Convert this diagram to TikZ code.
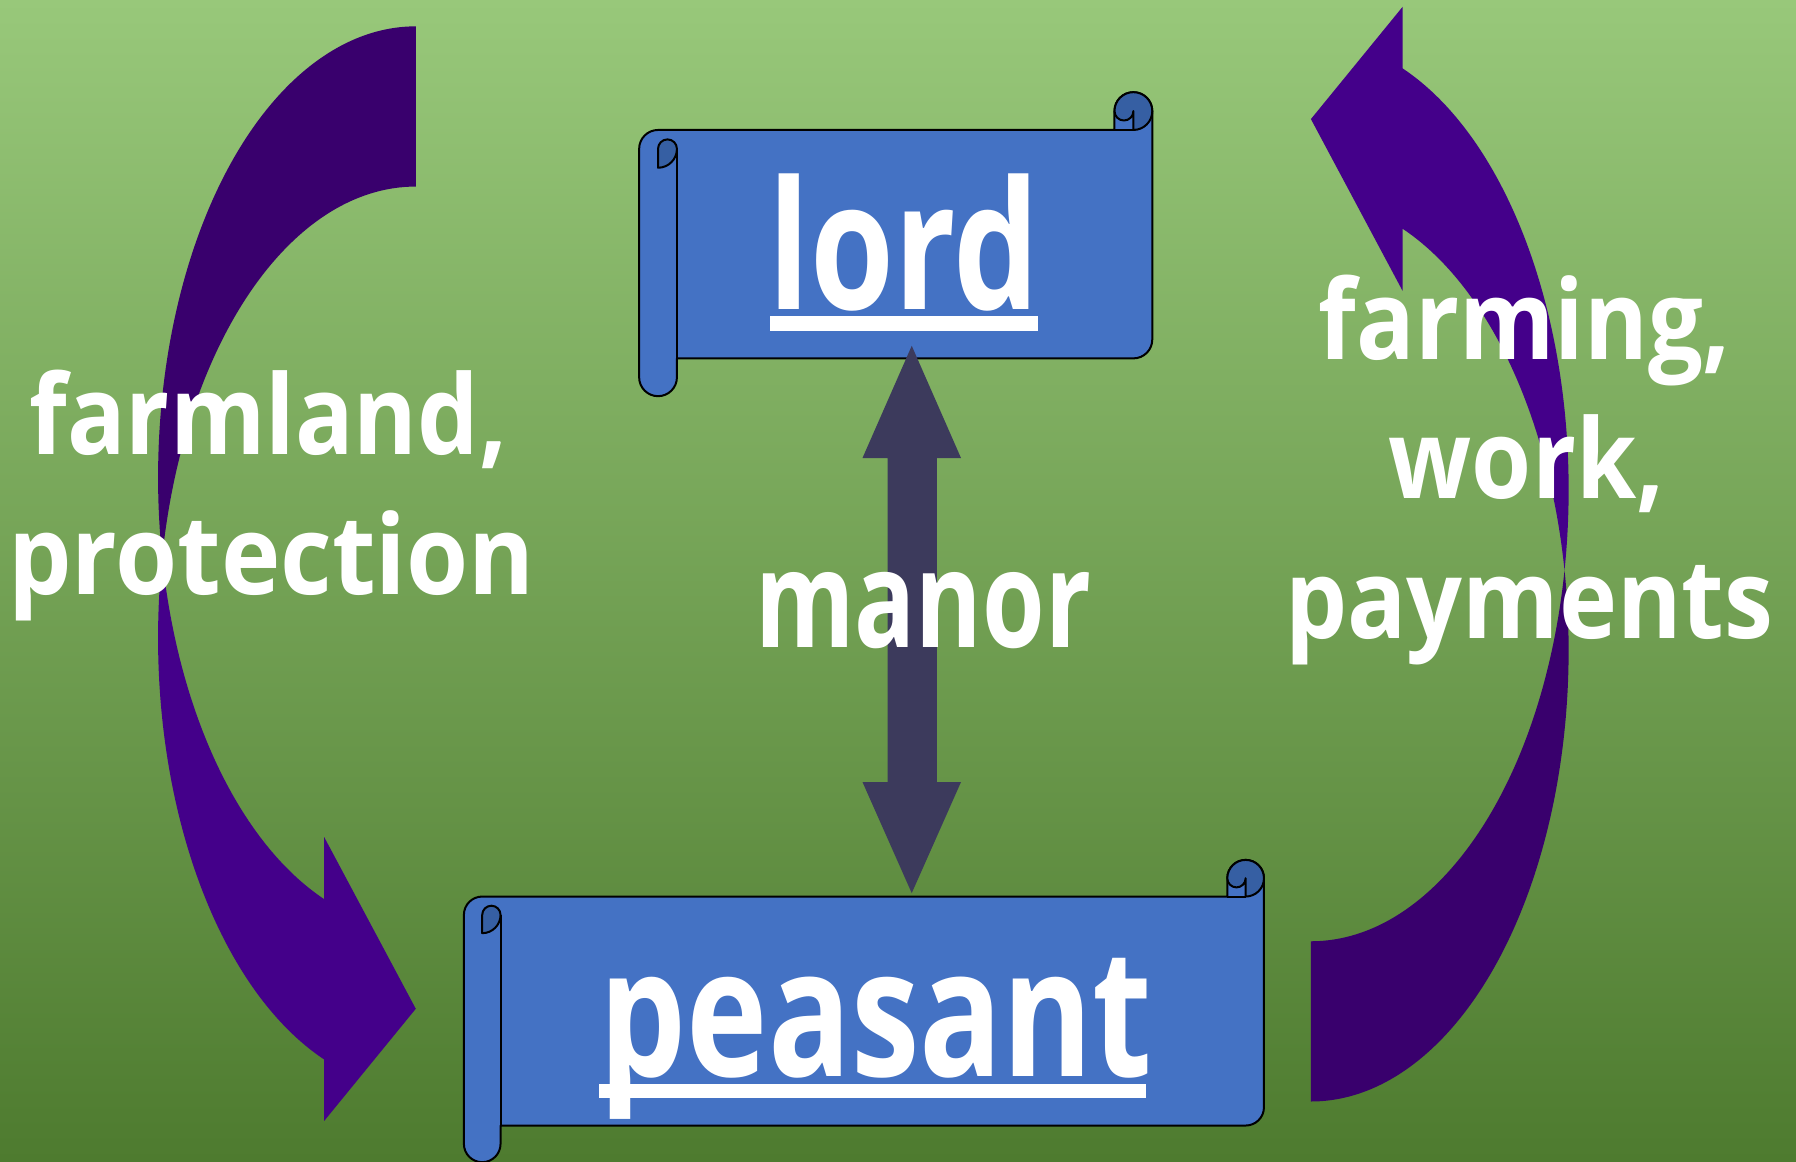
\documentclass[tikz,border=0pt]{standalone}
\usepackage{fontspec}
\setmainfont{Open Sans}
\usepackage{graphicx}
\definecolor{bgtop}{HTML}{98C87A}
\definecolor{bgmid}{HTML}{74AE4B}
\definecolor{bgbot}{HTML}{4E7B2F}
\definecolor{purpdark}{HTML}{39006D}
\definecolor{purplight}{HTML}{44008A}
\definecolor{scrollblue}{HTML}{4472C4}
\definecolor{scrolldark}{HTML}{365FA3}
\definecolor{slate}{HTML}{3C3A5C}
\tikzset{
 scrollbody/.style={fill=scrollblue, draw=black, line width=1pt, line join=round},
 scrollcurl/.style={fill=scrolldark, draw=black, line width=1pt, line join=round},
 scrollline/.style={draw=black, line width=1pt},
 lbl/.style={text=white, inner sep=0pt, anchor=base, font=\bfseries},
 uline/.style={fill=white},
}
\newcommand\myscroll[5]{%
 \pgfmathsetmacro\Sl{#1}\pgfmathsetmacro\St{#2}\pgfmathsetmacro\Sr{#3}\pgfmathsetmacro\Sb{#4}\pgfmathsetmacro\Sc{#5}%
 \pgfmathsetmacro\Sh{\Sc/2}\pgfmathsetmacro\Sq{\Sc/4}%
 \path[scrollbody] (\Sr,\St+\Sh) arc[start angle=0,end angle=-180,radius=\Sh]
   -- (\Sr-\Sc,\St+\Sc) -- (\Sl+\Sh,\St+\Sc) arc[start angle=-90,end angle=-180,radius=\Sh]
   -- (\Sl,\Sb-\Sh) arc[start angle=180,end angle=0,radius=\Sh]
   -- (\Sl+\Sc,\Sb-\Sc) -- (\Sr-\Sh,\Sb-\Sc) arc[start angle=90,end angle=0,radius=\Sh] -- cycle;
 \path[scrollcurl] (\Sl+\Sh,\St+2*\Sc) -- (\Sl+\Sh,\St+\Sc+\Sh) arc[start angle=180,end angle=360,radius=\Sq] arc[start angle=0,end angle=90,radius=\Sh] -- cycle;
 \path[scrollcurl] (\Sr-\Sh,\St+\Sh) -- (\Sr-\Sh,\St+\Sc) arc[start angle=90,end angle=-180,radius=\Sh] arc[start angle=180,end angle=0,radius=\Sq] -- cycle;
 \draw[scrollline] (\Sl+\Sc,\St+\Sc+\Sh) -- (\Sl+\Sc,\Sb-\Sc);
 \draw[scrollline] (\Sr-\Sc,\St+\Sc) -- (\Sr-\Sh,\St+\Sc);
}
\newcommand\curvedarrow{%
 \fill[purpdark] (363,23) arc[start angle=270,end angle=169.77,x radius=225,y radius=394]
   arc[start angle=190.23,end angle=270,x radius=225,y radius=394] -- cycle;
 \fill[purplight] (141.6,487) arc[start angle=169.77,end angle=110.83,x radius=225,y radius=394]
   -- (283,731) -- (363,881) -- (283,979) -- (283,925.3)
   arc[start angle=110.83,end angle=190.23,x radius=225,y radius=394] -- cycle;
}
\newcommand\lbltext[3]{\scalebox{#2}[1]{\fontsize{#1}{#1}\selectfont #3}}
\begin{document}
\begin{tikzpicture}[x=0.5727pt,y=-0.5725pt]
\useasboundingbox (0,0) rectangle (1568,1014);
\clip (0,0) rectangle (1568,1014);
\shade[top color=bgtop, middle color=bgmid, bottom color=bgbot] (0,0) rectangle (1568,1014);
% curved arrows
\curvedarrow
\begin{scope}[rotate around={180:(753.75,492.5)}]
\curvedarrow
\end{scope}
% scrolls
\myscroll{558}{80.5}{1006}{346}{33}
\myscroll{405}{751}{1103.5}{1015}{32}
% centre double arrow
\coordinate (tipA) at (796,302);
\coordinate (tipB) at (796,780);
\fill[slate] (tipA) -- (839,400) -- (818,400) -- (818,683) -- (839,683) -- (tipB)
   -- (753,683) -- (775,683) -- (775,400) -- (753,400) -- cycle;
% underlines
\fill[uline] (672.4,275.9) rectangle (906.3,288.7);
\fill[uline] (523,946.7) rectangle (1000.8,958.9);
% texts
\node[lbl] (lord) at (789.3,270.6) {\lbltext{89.3pt}{0.76}{lord}};
\node[lbl] (peasant) at (765,940) {\lbltext{89.3pt}{0.77}{peasant}};
\node[lbl] (manor) at (806,565.2) {\lbltext{67.5pt}{0.75}{manor}};
\node[lbl] (farmland) at (234.4,397.2) {\lbltext{55.2pt}{0.88}{farmland,}};
\node[lbl] (protection) at (237,519.5) {\lbltext{55.2pt}{0.91}{protection}};
\node[lbl] (farming) at (1331.4,313.7) {\lbltext{55.2pt}{0.88}{farming,}};
\node[lbl] (work) at (1332.9,435.1) {\lbltext{55.2pt}{0.88}{work,}};
\node[lbl] (payments) at (1335,557.3) {\lbltext{55.2pt}{0.89}{payments}};
\end{tikzpicture}
\end{document}
